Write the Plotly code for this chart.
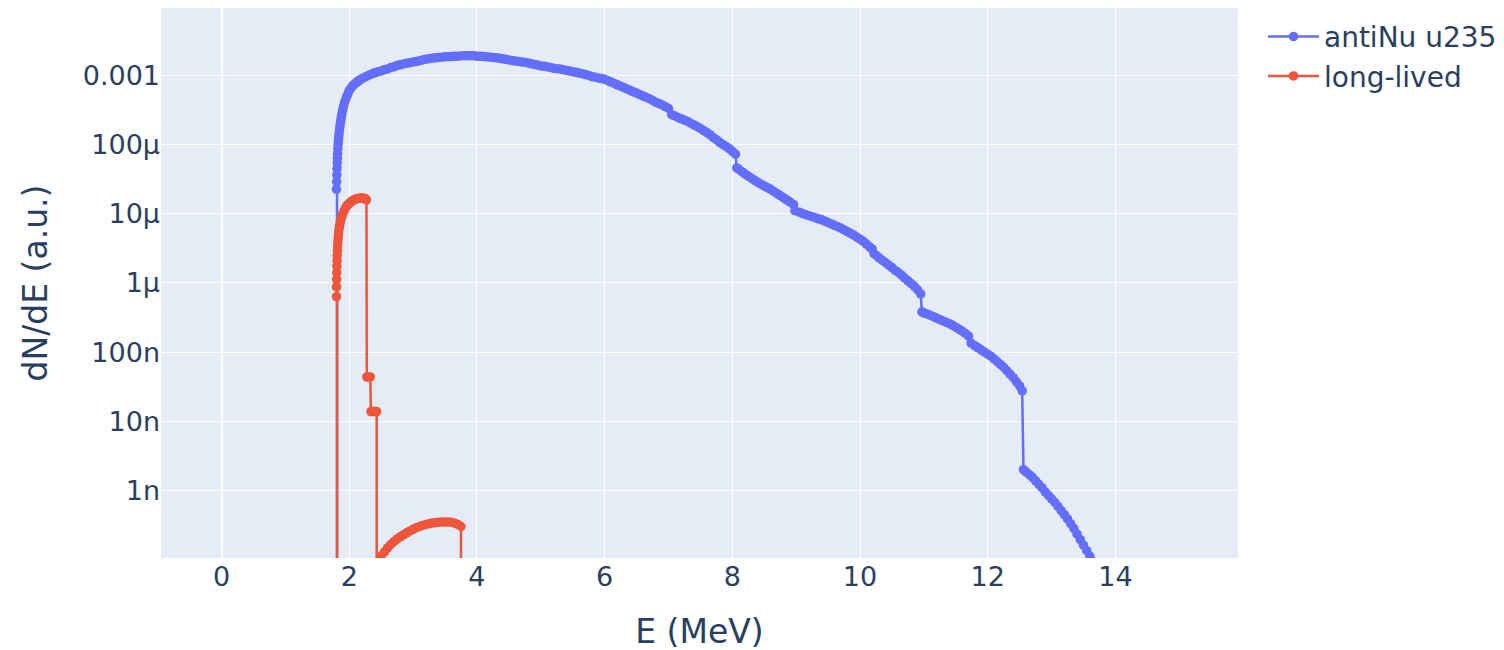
import plotly.graph_objects as go

# ---- data (E in MeV, dN/dE in a.u.) ----
antinu_E = [
    1.795, 1.800, 1.803, 1.806, 1.809, 1.812, 1.815, 1.818, 1.822, 1.826, 1.830, 1.835, 1.840, 1.846,
    1.853, 1.860, 1.868, 1.877, 1.887, 1.898, 1.910, 1.925, 1.940, 1.960, 1.980,
    2.000, 2.025, 2.050, 2.075, 2.100, 2.125, 2.150, 2.175, 2.20, 2.25, 2.30, 2.35, 2.40, 2.45,
    2.50, 2.55, 2.60, 2.65, 2.70, 2.75, 2.80, 2.85, 2.90, 2.95,
    3.00, 3.05, 3.10, 3.15, 3.20, 3.25, 3.30, 3.35, 3.40, 3.45,
    3.50, 3.55, 3.60, 3.65, 3.70, 3.75, 3.80, 3.85, 3.90, 3.95,
    4.00, 4.05, 4.10, 4.15, 4.20, 4.25, 4.30, 4.35, 4.40, 4.45,
    4.50, 4.55, 4.60, 4.65, 4.70, 4.75, 4.80, 4.85, 4.90, 4.95,
    5.00, 5.05, 5.10, 5.15, 5.20, 5.25, 5.30, 5.35, 5.40, 5.45,
    5.50, 5.55, 5.60, 5.65, 5.70, 5.75, 5.80, 5.85, 5.90, 5.95,
    6.00, 6.05, 6.10, 6.15, 6.20, 6.25, 6.30, 6.35, 6.40, 6.45,
    6.50, 6.55, 6.60, 6.65, 6.70, 6.75, 6.80, 6.85, 6.90, 6.95,
    7.00, 7.05, 7.10, 7.15, 7.20, 7.25, 7.30, 7.35, 7.40, 7.45,
    7.50, 7.55, 7.60, 7.65, 7.70, 7.75, 7.80, 7.85, 7.90, 7.95,
    8.00, 8.05, 8.07, 8.10, 8.15, 8.20, 8.25, 8.30, 8.35, 8.40, 8.45,
    8.50, 8.55, 8.60, 8.65, 8.70, 8.75, 8.80, 8.85, 8.90, 8.96, 8.98,
    9.05, 9.10, 9.15, 9.20, 9.25, 9.30, 9.35, 9.40, 9.45,
    9.50, 9.55, 9.60, 9.65, 9.70, 9.75, 9.80, 9.85, 9.90, 9.95,
    10.00, 10.05, 10.10, 10.15, 10.19, 10.22, 10.26, 10.30, 10.35, 10.40, 10.45,
    10.50, 10.55, 10.60, 10.65, 10.70, 10.75, 10.80, 10.85, 10.90, 10.95, 10.97,
    11.00, 11.05, 11.10, 11.15, 11.20, 11.25, 11.30, 11.35, 11.40, 11.45,
    11.50, 11.55, 11.60, 11.65, 11.70, 11.74, 11.80, 11.85, 11.90, 11.95,
    12.00, 12.05, 12.10, 12.15, 12.20, 12.25, 12.30, 12.35, 12.40, 12.45, 12.50, 12.54, 12.56,
    12.60, 12.65, 12.70, 12.75, 12.80, 12.85, 12.90, 12.95,
    13.00, 13.05, 13.10, 13.15, 13.20, 13.25, 13.30, 13.35, 13.40, 13.45, 13.50, 13.55, 13.60,
    13.65, 13.70,
]
antinu_dNdE = [
    0.0, 2.24e-5, 2.88e-5, 3.63e-5, 4.47e-5, 5.37e-5, 6.31e-5, 7.41e-5, 8.71e-5, 1.00e-4, 1.12e-4, 1.26e-4, 1.41e-4, 1.58e-4,
    1.78e-4, 2.00e-4, 2.24e-4, 2.51e-4, 2.82e-4, 3.16e-4, 3.55e-4, 3.98e-4, 4.37e-4, 4.90e-4, 5.37e-4,
    6.03e-4, 6.46e-4, 6.92e-4, 7.33e-4, 7.67e-4, 7.94e-4, 8.32e-4, 8.61e-4, 8.91e-4, 9.44e-4, 9.89e-4, 1.035e-3, 1.08e-3, 1.12e-3,
    1.15e-3, 1.20e-3, 1.23e-3, 1.29e-3, 1.32e-3, 1.38e-3, 1.41e-3, 1.45e-3, 1.48e-3, 1.51e-3,
    1.55e-3, 1.58e-3, 1.62e-3, 1.66e-3, 1.70e-3, 1.73e-3, 1.76e-3, 1.78e-3, 1.80e-3, 1.82e-3,
    1.84e-3, 1.85e-3, 1.86e-3, 1.87e-3, 1.88e-3, 1.89e-3, 1.91e-3, 1.91e-3, 1.91e-3, 1.90e-3,
    1.88e-3, 1.87e-3, 1.86e-3, 1.84e-3, 1.82e-3, 1.80e-3, 1.78e-3, 1.75e-3, 1.72e-3, 1.69e-3,
    1.66e-3, 1.63e-3, 1.60e-3, 1.58e-3, 1.55e-3, 1.53e-3, 1.50e-3, 1.46e-3, 1.43e-3, 1.40e-3,
    1.36e-3, 1.34e-3, 1.32e-3, 1.29e-3, 1.26e-3, 1.24e-3, 1.23e-3, 1.20e-3, 1.17e-3, 1.15e-3,
    1.12e-3, 1.10e-3, 1.07e-3, 1.05e-3, 1.02e-3, 9.89e-4, 9.55e-4, 9.33e-4, 9.12e-4, 8.91e-4,
    8.71e-4, 8.32e-4, 7.94e-4, 7.59e-4, 7.24e-4, 6.92e-4, 6.61e-4, 6.31e-4, 6.03e-4, 5.75e-4,
    5.50e-4, 5.25e-4, 5.01e-4, 4.79e-4, 4.57e-4, 4.32e-4, 4.07e-4, 3.89e-4, 3.72e-4, 3.51e-4,
    3.31e-4, 2.69e-4, 2.57e-4, 2.45e-4, 2.34e-4, 2.24e-4, 2.14e-4, 2.02e-4, 1.91e-4, 1.80e-4,
    1.70e-4, 1.58e-4, 1.48e-4, 1.38e-4, 1.26e-4, 1.17e-4, 1.07e-4, 1.00e-4, 9.33e-5, 8.71e-5,
    7.94e-5, 7.24e-5, 4.57e-5, 4.37e-5, 4.03e-5, 3.72e-5, 3.47e-5, 3.24e-5, 3.02e-5, 2.82e-5, 2.66e-5,
    2.51e-5, 2.37e-5, 2.24e-5, 2.09e-5, 1.95e-5, 1.82e-5, 1.70e-5, 1.58e-5, 1.48e-5, 1.35e-5, 1.10e-5,
    1.05e-5, 1.00e-5, 9.66e-6, 9.33e-6, 9.02e-6, 8.71e-6, 8.41e-6, 8.13e-6, 7.76e-6,
    7.41e-6, 7.08e-6, 6.76e-6, 6.46e-6, 6.17e-6, 5.82e-6, 5.50e-6, 5.19e-6, 4.90e-6, 4.57e-6,
    4.27e-6, 3.98e-6, 3.63e-6, 3.31e-6, 3.09e-6, 2.63e-6, 2.46e-6, 2.29e-6, 2.11e-6, 1.95e-6, 1.80e-6,
    1.66e-6, 1.51e-6, 1.41e-6, 1.29e-6, 1.17e-6, 1.07e-6, 9.77e-7, 8.91e-7, 7.94e-7, 6.92e-7, 3.80e-7,
    3.67e-7, 3.55e-7, 3.39e-7, 3.24e-7, 3.09e-7, 2.95e-7, 2.82e-7, 2.69e-7, 2.57e-7, 2.43e-7,
    2.29e-7, 2.14e-7, 2.00e-7, 1.86e-7, 1.70e-7, 1.35e-7, 1.23e-7, 1.15e-7, 1.07e-7, 1.00e-7,
    9.33e-8, 8.71e-8, 7.94e-8, 7.24e-8, 6.61e-8, 6.03e-8, 5.37e-8, 4.79e-8, 4.27e-8, 3.72e-8, 3.24e-8, 2.75e-8, 2.00e-9,
    1.86e-9, 1.70e-9, 1.55e-9, 1.38e-9, 1.23e-9, 1.10e-9, 9.55e-10, 8.51e-10,
    7.59e-10, 6.76e-10, 5.89e-10, 5.13e-10, 4.47e-10, 3.89e-10, 3.31e-10, 2.82e-10, 2.34e-10, 1.95e-10, 1.62e-10, 1.35e-10, 1.12e-10,
    9.33e-11, 7.59e-11,
]

longlived_E = [
    1.795, 1.800, 1.801, 1.803, 1.805, 1.807, 1.809, 1.812, 1.815, 1.818, 1.822, 1.826, 1.830, 1.836, 1.843,
    1.850, 1.860, 1.870, 1.885, 1.900, 1.920, 1.940, 1.960, 1.980,
    2.000, 2.025, 2.050, 2.075, 2.100, 2.125, 2.150, 2.175, 2.200, 2.225, 2.250, 2.270,
    2.275, 2.30, 2.33, 2.34, 2.37, 2.40, 2.43, 2.44,
    2.46, 2.50, 2.55, 2.60, 2.65, 2.70, 2.75, 2.80, 2.85, 2.90, 2.95,
    3.00, 3.05, 3.10, 3.15, 3.20, 3.25, 3.30, 3.35, 3.40, 3.45,
    3.50, 3.55, 3.60, 3.65, 3.70, 3.75, 3.76,
]
longlived_dNdE = [
    0.0, 6.31e-7, 8.71e-7, 1.12e-6, 1.41e-6, 1.74e-6, 2.09e-6, 2.51e-6, 2.95e-6, 3.39e-6, 3.89e-6, 4.37e-6, 4.90e-6, 5.50e-6, 6.17e-6,
    6.76e-6, 7.59e-6, 8.32e-6, 9.12e-6, 1.00e-5, 1.10e-5, 1.20e-5, 1.29e-5, 1.35e-5,
    1.41e-5, 1.48e-5, 1.53e-5, 1.58e-5, 1.62e-5, 1.64e-5, 1.66e-5, 1.67e-5, 1.68e-5, 1.67e-5, 1.65e-5, 1.58e-5,
    4.37e-8, 4.37e-8, 4.37e-8, 1.38e-8, 1.38e-8, 1.38e-8, 1.38e-8, 0.0,
    9.55e-11, 1.12e-10, 1.29e-10, 1.48e-10, 1.66e-10, 1.82e-10, 2.00e-10, 2.14e-10, 2.29e-10, 2.45e-10, 2.60e-10,
    2.75e-10, 2.90e-10, 3.02e-10, 3.13e-10, 3.24e-10, 3.31e-10, 3.39e-10, 3.43e-10, 3.47e-10, 3.50e-10,
    3.51e-10, 3.50e-10, 3.47e-10, 3.37e-10, 3.24e-10, 3.02e-10, 0.0,
]

y_tickvals = [1e-9, 1e-8, 1e-7, 1e-6, 1e-5, 1e-4, 1e-3]
y_ticktext = ["1n", "10n", "100n", "1µ", "10µ", "100µ", "0.001"]

FONT = "DejaVu Sans"

fig = go.Figure()
fig.add_trace(go.Scatter(
    x=antinu_E, y=antinu_dNdE, mode="lines+markers", name="antiNu u235",
    line=dict(color="#636efa", width=2.5), marker=dict(size=9.5, color="#636efa"),
))
fig.add_trace(go.Scatter(
    x=longlived_E, y=longlived_dNdE, mode="lines+markers", name="long-lived",
    line=dict(color="#EF553B", width=2.5), marker=dict(size=9.5, color="#EF553B"),
))

fig.update_layout(
    width=1504, height=650,
    template="plotly",
    font=dict(family=FONT, size=27, color="#2a3f5f"),
    margin=dict(l=153, r=274, t=0, b=100),
    legend=dict(font=dict(family=FONT, size=28), x=1.0232, y=0.993, itemwidth=51),
    xaxis=dict(
        title=dict(text="E (MeV)", font=dict(family=FONT, size=33), standoff=28),
        range=[-0.948, 15.92], dtick=2, tick0=0,
        tickfont=dict(family=FONT, size=27),
    ),
    yaxis=dict(
        title=dict(text="dN/dE (a.u.)", font=dict(family=FONT, size=33), standoff=25),
        type="log", range=[-9.975, -2.03],
        tickvals=y_tickvals, ticktext=y_ticktext,
        tickfont=dict(family=FONT, size=27),
    ),
)

fig.write_html("out.html")
